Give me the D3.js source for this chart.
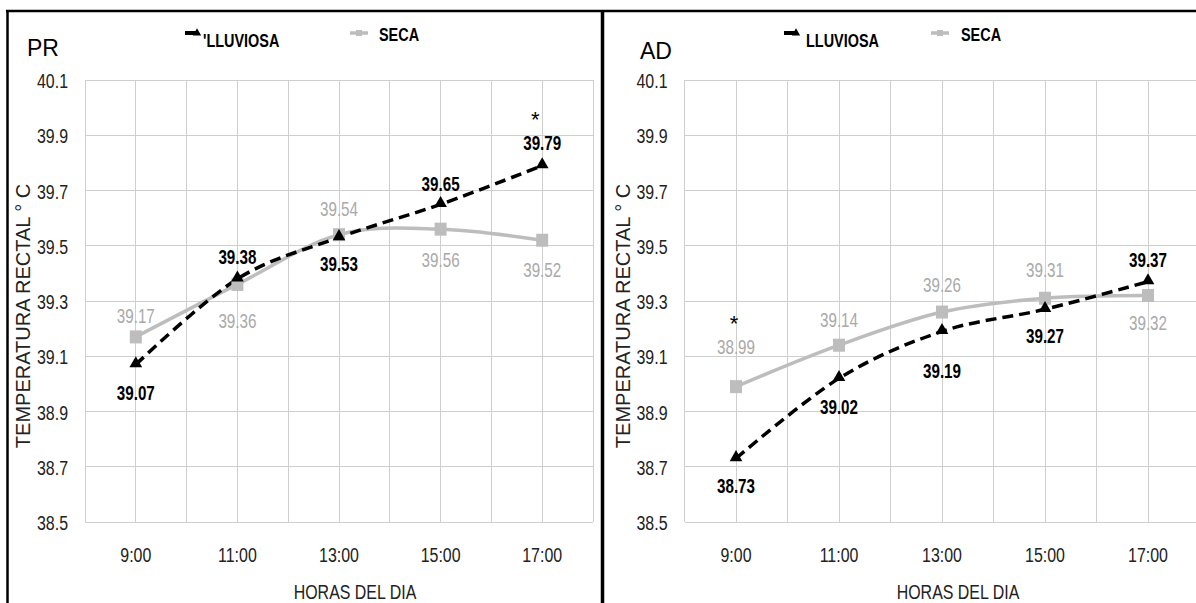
<!DOCTYPE html>
<html><head><meta charset="utf-8">
<script src="https://cdn.jsdelivr.net/npm/d3@7"></script>
<style>
body{margin:0;background:#fff}
svg{display:block}
</style></head><body>
<svg id="c" width="1196" height="603"></svg>
<script>
const categories = ["9:00","11:00","13:00","15:00","17:00"];
const yTicks = [38.5,38.7,38.9,39.1,39.3,39.5,39.7,39.9,40.1];
const prLluviosa = [39.07,39.38,39.53,39.65,39.79];
const prSeca = [39.17,39.36,39.54,39.56,39.52];
const adLluviosa = [38.73,39.02,39.19,39.27,39.37];
const adSeca = [38.99,39.14,39.26,39.31,39.32];
const panelNames = ["PR","AD"];
const legendLluviosa = ["'LLUVIOSA","LLUVIOSA"];
const legendSeca = "SECA";
const yTitle = "TEMPERATURA RECTAL  \u00b0 C";
const xTitle = "HORAS DEL DIA";
const significance = [{series:"L", index:4}, {series:"S", index:0}];

// style: label offsets (px) relative to each point
const labelDy = {
  PR:{L:[35,-15,34,-13,-16], S:[-14,44,-19,38,37]},
  AD:{L:[35,36,47,34,-15], S:[-33,-18,-20,-21,35]}
};
const layout = [
  {x0:85, x1:593, titleX:27, titleY:56, legL:185, legLT:203, legS:350, legST:379, astDx:-7, astDy:-39},
  {x0:684.5, x1:1199.5, titleX:640, titleY:59, legL:784, legLT:806, legS:931, legST:961, astDx:-2, astDy:-56}
];
const Y0 = 80, Y1 = 522;
const GRID = "#cfcfcf", GRAY = "#bdbdbd", GRAYTXT = "#a9a9a9";
const FONT = "Liberation Sans, Arial, sans-serif";
const NARROW = 0.76;

// condensed rendering: horizontally squeeze text around its anchor
function narrow(sel) {
  sel.each(function() {
    const t = d3.select(this);
    const x = +t.attr("x") || 0, y = +t.attr("y") || 0;
    t.attr("x", 0).attr("y", 0).attr("font-family", FONT)
     .attr("transform", `translate(${x},${y}) scale(${NARROW},1)`);
  });
}

const svg = d3.select("#c");
const data = [
  {name:panelNames[0], L:prLluviosa, S:prSeca},
  {name:panelNames[1], L:adLluviosa, S:adSeca}
];

data.forEach((p, pi) => {
  const lay = layout[pi];
  const g = svg.append("g");
  const x = d3.scaleBand().domain(categories).range([lay.x0, lay.x1]).padding(0);
  const bw = x.bandwidth();
  const cx = c => x(c) + bw/2;
  const y = d3.scaleLinear().domain([38.5, 40.1]).range([Y1, Y0]);

  // vertical grid: band edges and centers
  const vx = [];
  categories.forEach(c => { vx.push(x(c)); vx.push(cx(c)); });
  vx.push(lay.x1);
  g.selectAll("line.vg").data(vx).join("line")
    .attr("x1", d=>d).attr("x2", d=>d).attr("y1", Y0).attr("y2", Y1)
    .attr("stroke", GRID).attr("stroke-width", 1).attr("shape-rendering","crispEdges");
  g.selectAll("line.hg").data(yTicks).join("line")
    .attr("x1", lay.x0).attr("x2", lay.x1).attr("y1", d=>y(d)).attr("y2", d=>y(d))
    .attr("stroke", GRID).attr("stroke-width", 1).attr("shape-rendering","crispEdges");

  // y axis labels
  const yAxis = d3.axisLeft(y).tickValues(yTicks).tickFormat(d3.format(".1f")).tickSize(0).tickPadding(17);
  const ya = g.append("g").attr("transform", `translate(${lay.x0},0)`).call(yAxis);
  ya.select(".domain").remove();
  ya.selectAll("text").attr("font-size", 21).attr("fill","#222").attr("dy","0.36em").call(narrow);

  // x axis labels
  const xAxis = d3.axisBottom(x).tickSize(0).tickPadding(0);
  const xa = g.append("g").attr("transform", `translate(0,${Y1})`).call(xAxis);
  xa.select(".domain").remove();
  xa.selectAll("text").attr("font-size", 21).attr("fill","#222").attr("y", 40).attr("dy", 0).call(narrow);

  // titles
  g.append("text").attr("x", (lay.x0 + lay.x1)/2 + 16).attr("y", 599)
    .attr("text-anchor","middle").attr("font-size", 21).attr("fill","#222").text(xTitle).call(narrow);
  g.append("text").attr("transform", `translate(${lay.x0 - 55},${(Y0+Y1)/2 + 15}) rotate(-90)`)
    .attr("text-anchor","middle").attr("font-family", FONT)
    .attr("font-size", 20).attr("fill","#222").text(yTitle);
  g.append("text").attr("x", lay.titleX).attr("y", lay.titleY)
    .attr("font-family", FONT).attr("font-size", 23).attr("fill","#000").text(p.name);

  // lines
  const line = d3.line().x((d,i)=>cx(categories[i])).y(d=>y(d)).curve(d3.curveCatmullRom.alpha(0));
  g.append("path").datum(p.S).attr("d", line).attr("fill","none")
    .attr("stroke", GRAY).attr("stroke-width", 3.5);
  g.append("path").datum(p.L).attr("d", line).attr("fill","none")
    .attr("stroke", "#000").attr("stroke-width", 3.5).attr("stroke-dasharray","11,6");

  // markers
  g.selectAll("rect.sq").data(p.S).join("rect")
    .attr("x", (d,i)=>cx(categories[i]) - 6).attr("y", d=>y(d) - 6.5)
    .attr("width", 12).attr("height", 13).attr("fill", GRAY);
  const tri = d3.symbol().type(d3.symbolTriangle).size(70);
  g.selectAll("path.tri").data(p.L).join("path")
    .attr("d", tri).attr("transform", (d,i)=>`translate(${cx(categories[i])},${y(d)-1})`)
    .attr("fill","#000");

  // data labels
  g.selectAll("text.ls").data(p.S).join("text")
    .attr("x", (d,i)=>cx(categories[i])).attr("y", (d,i)=>y(d) + labelDy[p.name].S[i])
    .attr("text-anchor","middle").attr("font-size", 20).attr("fill", GRAYTXT)
    .text(d=>d3.format(".2f")(d)).call(narrow);
  g.selectAll("text.ll").data(p.L).join("text")
    .attr("x", (d,i)=>cx(categories[i])).attr("y", (d,i)=>y(d) + labelDy[p.name].L[i])
    .attr("text-anchor","middle").attr("font-size", 20).attr("font-weight","bold").attr("fill","#000")
    .text(d=>d3.format(".2f")(d)).call(narrow);

  // significance asterisk
  const sig = significance[pi];
  const sv = p[sig.series][sig.index];
  g.append("text").attr("x", cx(categories[sig.index]) + lay.astDx).attr("y", y(sv) + lay.astDy)
    .attr("text-anchor","middle").attr("font-family", FONT)
    .attr("font-size", 22).attr("fill","#000").text("*");

  // legend
  const lg = g.append("g");
  lg.append("line").attr("x1", lay.legL).attr("x2", lay.legL + 11).attr("y1", 33).attr("y2", 33)
    .attr("stroke","#000").attr("stroke-width", 4);
  lg.append("path").attr("d", d3.symbol().type(d3.symbolTriangle).size(30))
    .attr("transform", `translate(${lay.legL + 12},33)`).attr("fill","#000");
  lg.append("text").attr("x", lay.legLT).attr("y", 47)
    .attr("font-size", 19).attr("font-weight","bold").attr("fill","#000").text(legendLluviosa[pi]).call(narrow);
  lg.append("line").attr("x1", lay.legS).attr("x2", lay.legS + 18).attr("y1", 33).attr("y2", 33)
    .attr("stroke", GRAY).attr("stroke-width", 3.5);
  lg.append("rect").attr("x", lay.legS + 6).attr("y", 30).attr("width", 6).attr("height", 6).attr("fill", GRAY);
  lg.append("text").attr("x", lay.legST).attr("y", 41)
    .attr("font-size", 19).attr("font-weight","bold").attr("fill","#000").text(legendSeca).call(narrow);
});

// frame lines
svg.append("line").attr("x1", 6).attr("x2", 1196).attr("y1", 11).attr("y2", 11)
  .attr("stroke","#000").attr("stroke-width", 2.5);
svg.append("line").attr("x1", 7.5).attr("x2", 7.5).attr("y1", 10).attr("y2", 603)
  .attr("stroke","#000").attr("stroke-width", 2.5);
svg.append("line").attr("x1", 602.5).attr("x2", 602.5).attr("y1", 10).attr("y2", 603)
  .attr("stroke","#000").attr("stroke-width", 3.5);
</script>
</body></html>
